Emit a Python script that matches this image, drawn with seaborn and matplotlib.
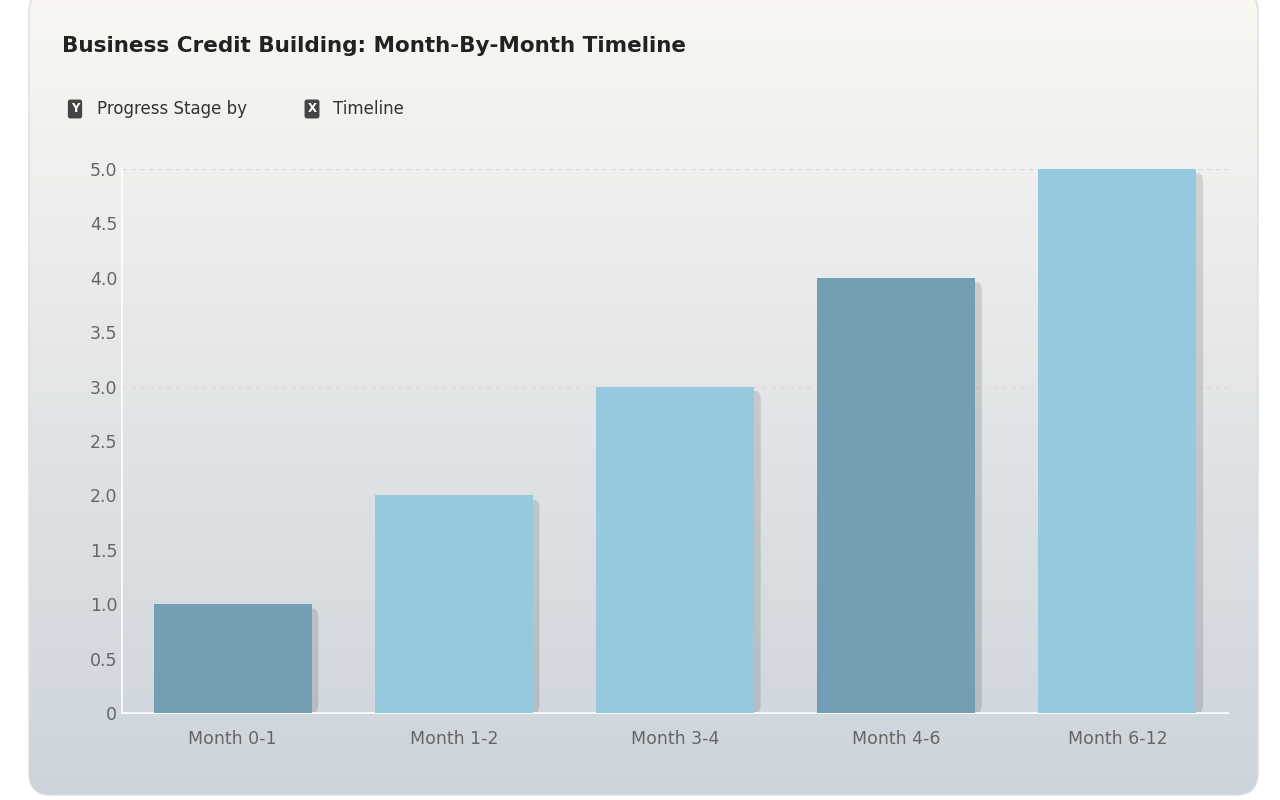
import numpy as np
import pandas as pd
import matplotlib
matplotlib.use("Agg")
import matplotlib.pyplot as plt
from matplotlib.patches import FancyBboxPatch
import seaborn as sns

categories = ["Month 0-1", "Month 1-2", "Month 3-4", "Month 4-6", "Month 6-12"]
values = [1, 2, 3, 4, 5]
bar_colors = ["#67A3BF", "#87CEEB", "#87CEEB", "#67A3BF", "#87CEEB"]
yticks = [0, 0.5, 1.0, 1.5, 2.0, 2.5, 3.0, 3.5, 4.0, 4.5, 5.0]
ytick_labels = ["0", "0.5", "1.0", "1.5", "2.0", "2.5", "3.0", "3.5", "4.0", "4.5", "5.0"]

df = pd.DataFrame({"cat": categories, "val": values})

W, H = 1280, 800
fig = plt.figure(figsize=(12.8, 8), dpi=100)
fig.patch.set_facecolor("white")

# card background with gradient
bg = fig.add_axes([0, 0, 1, 1], zorder=0)
bg.set_xlim(0, W); bg.set_ylim(H, 0); bg.axis("off")
card = FancyBboxPatch((29, -10), 1229, 805, boxstyle="round,pad=0,rounding_size=22",
                      facecolor="none", edgecolor="#dcdcdc", lw=1)
bg.add_patch(card)
top = np.array([0.98, 0.97, 0.95])
bot = np.array([0.80, 0.83, 0.86])
t = np.linspace(0, 1, 256)[:, None, None]
grad = top * (1 - t) + bot * t
grad = np.repeat(grad, 2, axis=1)
im = bg.imshow(grad, extent=[29, 1258, 795, -10], aspect="auto", zorder=0)
im.set_clip_path(card)

fig.text(62 / W, 1 - 46 / H, "Business Credit Building: Month-By-Month Timeline",
         fontsize=15.5, fontweight="bold", color="#222222", va="center", family="DejaVu Sans")
# axis hint with icon-like boxes
def icon(x, letter):
    fig.text(x / W, 1 - 109 / H, letter, fontsize=8.5, color="white", fontweight="bold",
             ha="center", va="center",
             bbox=dict(boxstyle="round,pad=0.25,rounding_size=0.2", fc="#444444", ec="none"))
icon(75, "Y")
fig.text(97 / W, 1 - 109 / H, "Progress Stage by", fontsize=12, color="#333333", va="center")
icon(312, "X")
fig.text(333 / W, 1 - 109 / H, "Timeline", fontsize=12, color="#333333", va="center")

ax = fig.add_axes([122 / W, 1 - 713 / H, (1228 - 122) / W, (713 - 169) / H], zorder=1)
ax.patch.set_alpha(0)
sns.barplot(data=df, x="cat", y="val", hue="cat", palette=bar_colors, legend=False,
            width=0.715, ax=ax, zorder=3)
for p in ax.patches:
    x, y0 = p.get_x(), p.get_y()
    w, h = p.get_width(), p.get_height()
    # shadow
    ax.add_patch(FancyBboxPatch((x + 0.03, y0), w, h - 0.04, boxstyle="round,pad=0,rounding_size=0.02",
                                mutation_aspect=5, fc="#000000", alpha=0.12, ec="none", zorder=2))
ax.set_ylim(0, 5.0)
ax.set_xlim(-0.5, 4.5)
ax.set_yticks(yticks)
ax.set_yticklabels(ytick_labels)
ax.set_xlabel(""); ax.set_ylabel("")
ax.tick_params(axis="both", length=0, labelsize=12.5, colors="#666666")
ax.tick_params(axis="x", pad=12)
for s in ["top", "right"]:
    ax.spines[s].set_visible(False)
ax.spines["left"].set_color("#ffffff")
ax.spines["bottom"].set_color("#ffffff")
ax.spines["left"].set_linewidth(1.2)
ax.spines["bottom"].set_linewidth(1.2)
for yv in [3.0, 5.0]:
    ax.axhline(yv, color="#d8d8d8", lw=0.8, ls=(0, (4, 4)), zorder=1)

fig.savefig("out.png", dpi=100)
